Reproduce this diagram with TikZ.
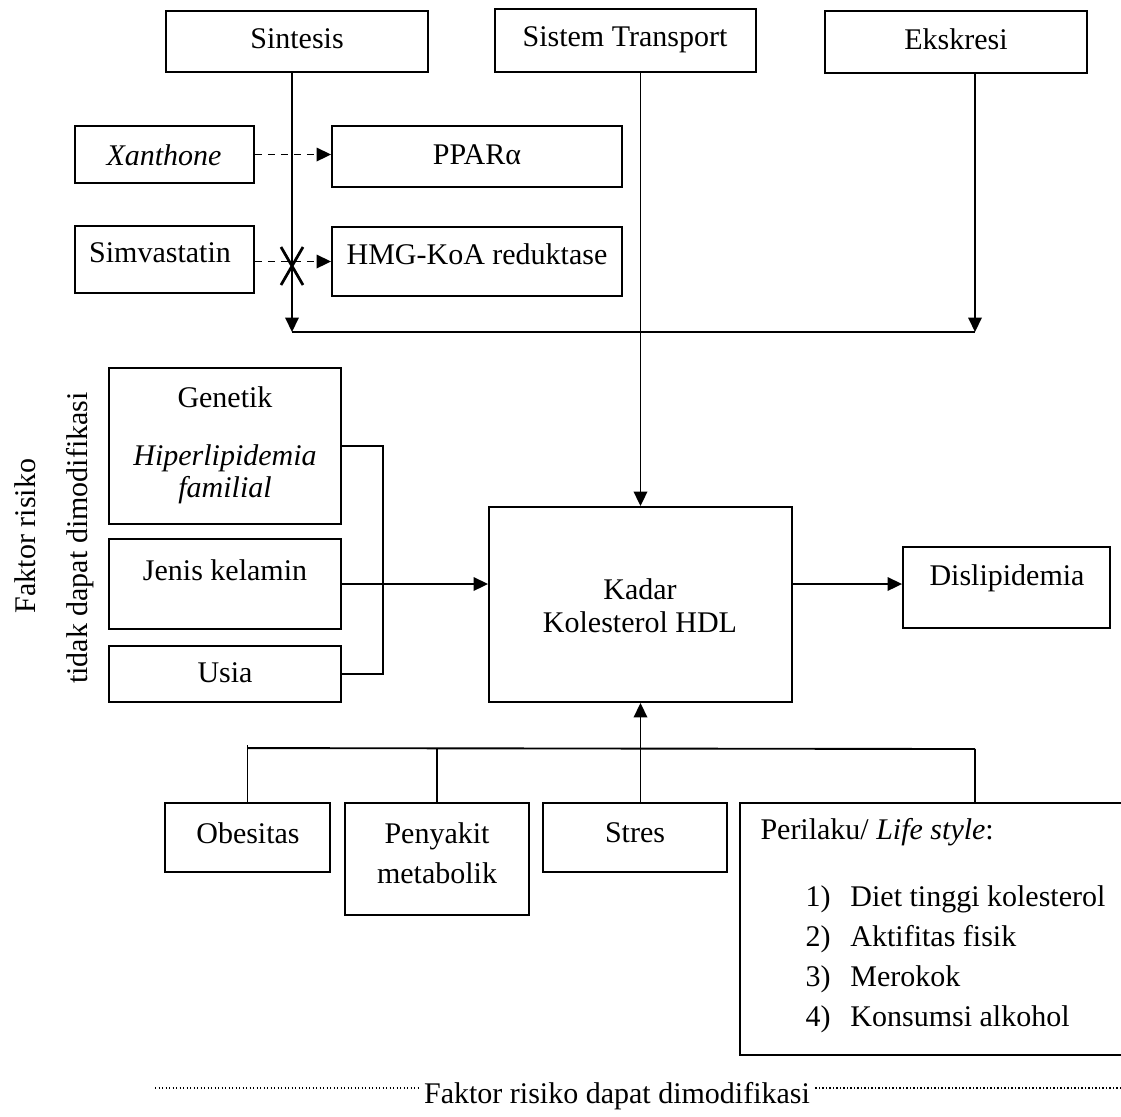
\documentclass[tikz,border=0pt]{standalone}
\usepackage{fontspec}
\setmainfont{Liberation Serif}
\usetikzlibrary{arrows.meta,fit,calc}
\begin{document}
\begin{tikzpicture}[x=0.4pt,y=-0.4pt,
  every node/.style={font=\fontsize{12}{13.2}\selectfont},
  box/.style={draw, line width=0.75pt, inner sep=0pt},
  lbl/.style={inner sep=0pt, align=center},
  conn/.style={line width=0.75pt},
  arr/.style={conn, -{Triangle[length=5.8pt,width=5.4pt]}},
  darr/.style={arr, dash pattern=on 3pt off 2.2pt},
  dotline/.style={line width=0.7pt, dash pattern=on 0.5pt off 0.9pt}
]
\useasboundingbox (0,0) rectangle (1121,1116);

% top row
\node[box, fit={(166,11) (428,72)}] (sint) {};
\node[lbl] (sint-t) at (297,39) {Sintesis};
\node[box, fit={(495,9) (756,72)}] (trans) {};
\node[lbl] (trans-t) at (625,40) {Sistem Transport};
\node[box, fit={(825,11) (1087,73)}] (eks) {};
\node[lbl] (eks-t) at (956,39) {Ekskresi};

% drugs / targets
\node[box, fit={(75,126) (254,183)}] (xan) {};
\node[lbl] (xan-t) at (164,155) {\textit{Xanthone}};
\node[box, fit={(332,126) (622,187)}] (ppar) {};
\node[lbl] (ppar-t) at (477,155) {PPARα};
\node[box, fit={(75,226) (254,293)}] (simv) {};
\node[lbl] (simv-t) at (160,253) {Simvastatin};
\node[box, fit={(332,227) (622,296)}] (hmg) {};
\node[lbl] (hmg-t) at (477,254) {HMG-KoA reduktase};

% non-modifiable factors
\node[lbl, rotate=90] (fr1) at (25,536) {Faktor risiko};
\node[lbl, rotate=90] (fr2) at (80,538) {tidak dapat dimodifikasi};
\node[box, fit={(109,368) (341,524)}] (gen) {};
\node[lbl] (gen-t) at (225,397) {Genetik};
\node[lbl, font=\fontsize{12}{12.8}\selectfont\itshape] (gen-t2) at (225,474) {Hiperlipidemia\\familial};
\node[box, fit={(109,539) (341,629)}] (jen) {};
\node[lbl] (jen-t) at (225,570) {Jenis kelamin};
\node[box, fit={(109,646) (341,702)}] (usia) {};
\node[lbl] (usia-t) at (225,673) {Usia};

% centre
\node[box, fit={(489,507) (792,702)}] (kadar) {};
\node[lbl] (kadar-t) at (640,606) {Kadar\\Kolesterol HDL};
\node[box, fit={(903,547) (1110,628)}] (dis) {};
\node[lbl] (dis-t) at (1007,578) {Dislipidemia};

% modifiable factors
\node[box, fit={(165,803) (330,872)}] (obes) {};
\node[lbl] (obes-t) at (248,833) {Obesitas};
\node[box, fit={(345,803) (529,915)}] (pen) {};
\node[lbl, font=\fontsize{12}{16}\selectfont] (pen-t) at (437,853) {Penyakit\\metabolik};
\node[box, fit={(543,803) (727,872)}] (stres) {};
\node[lbl] (stres-t) at (635,833) {Stres};
\node[box, fit={(740,803) (1128,1055)}] (per) {};
\node[lbl, anchor=west] (per-t) at (760,832) {Perilaku/ \textit{Life style}:};
\node[lbl, anchor=base west] (li1) at (805,906) {\makebox[18pt][l]{1)}Diet tinggi kolesterol};
\node[lbl, anchor=base west] (li2) at (805,946) {\makebox[18pt][l]{2)}Aktifitas fisik};
\node[lbl, anchor=base west] (li3) at (805,986) {\makebox[18pt][l]{3)}Merokok};
\node[lbl, anchor=base west] (li4) at (805,1026) {\makebox[18pt][l]{4)}Konsumsi alkohol};

\node[lbl, inner xsep=2pt] (ft) at (617,1096) {Faktor risiko dapat dimodifikasi};

% connectors top
\coordinate (c1) at (292,332);
\coordinate (c2) at (975,332);
\draw[arr] (sint.south -| c1) -- (c1);
\draw[arr] (eks.south -| c2) -- (c2);
\draw[conn] (c1) -- (c2);
\draw[arr] (kadar.north |- trans.south) -- (kadar.north);

\draw[darr] (xan.east) -- (xan.east -| ppar.west);
\draw[darr] (simv.east |- hmg.west) -- (hmg.west);
\coordinate (xm) at (292,266);
\draw[line width=1.1pt] (xm) ++(-11,-19) -- ++(22,38);
\draw[line width=1.1pt] (xm) ++(11,-19) -- ++(-22,38);

% left bracket
\draw[conn] (gen.east) -- ++(41,0) |- (usia.east);
\draw[arr] (jen.east) -- (jen.east -| kadar.west);
\draw[arr] (kadar.east |- jen.east) -- (dis.west |- jen.east);

% bottom bus
\path (obes.north) ++(0,-54) coordinate (b1);
\coordinate (b2) at (975,749);
\draw[conn] (b1) -- (b2);
\draw[conn] (obes.north) -- ++(0,-57);
\draw[conn] (pen.north) -- (pen.north |- b1);
\draw[conn] (per.north -| b2) -- (b2);
\draw[arr] (kadar.south |- stres.north) -- (kadar.south);

% dotted line
\coordinate (dl) at (155,1088);
\coordinate (dr) at (1121,1088);
\draw[dotline] (dl) -- (ft.west |- dl);
\draw[dotline] (ft.east |- dr) -- (dr);
\end{tikzpicture}
\end{document}
